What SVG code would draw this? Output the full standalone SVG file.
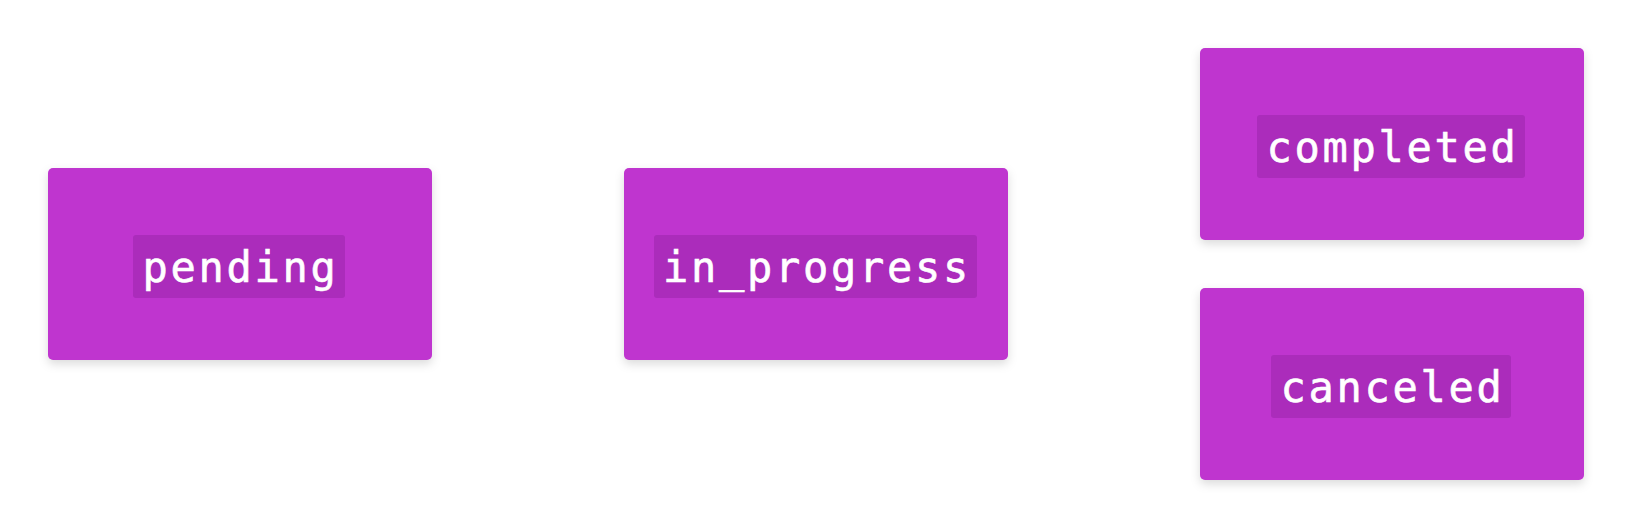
<svg xmlns="http://www.w3.org/2000/svg" width="1632" height="528" viewBox="0 0 1632 528">
<style>
.box{fill:#bf35cf;filter:url(#sh)}
.lbl{fill:#ab2cbb}
.t{font-family:"DejaVu Sans Mono","Liberation Mono",monospace;font-size:42px;letter-spacing:2.7px;fill:#ffffff;stroke:#ffffff;stroke-width:0.6px;text-anchor:middle}
</style>
<defs>
<filter id="sh" x="-10%" y="-10%" width="120%" height="130%">
<feDropShadow dx="0" dy="4" stdDeviation="5" flood-color="#000" flood-opacity="0.14"/>
</filter>
</defs>
<rect width="1632" height="528" fill="#ffffff"/>
<g id="connectors"></g>
<g id="pending">
<rect class="box" x="48" y="168" width="384" height="192" rx="5"/>
<rect class="lbl" x="133" y="235" width="212" height="63" rx="3"/>
<text class="t" x="240.5" y="281.5">pending</text>
</g>
<g id="in_progress">
<rect class="box" x="624" y="168" width="384" height="192" rx="5"/>
<rect class="lbl" x="654" y="235" width="323" height="63" rx="3"/>
<text class="t" x="817" y="281.5">in_progress</text>
</g>
<g id="completed">
<rect class="box" x="1200" y="48" width="384" height="192" rx="5"/>
<rect class="lbl" x="1257" y="115" width="268" height="63" rx="3"/>
<text class="t" x="1392.5" y="161.5">completed</text>
</g>
<g id="canceled">
<rect class="box" x="1200" y="288" width="384" height="192" rx="5"/>
<rect class="lbl" x="1271" y="355" width="240" height="63" rx="3"/>
<text class="t" x="1392.5" y="401.5">canceled</text>
</g>
</svg>
